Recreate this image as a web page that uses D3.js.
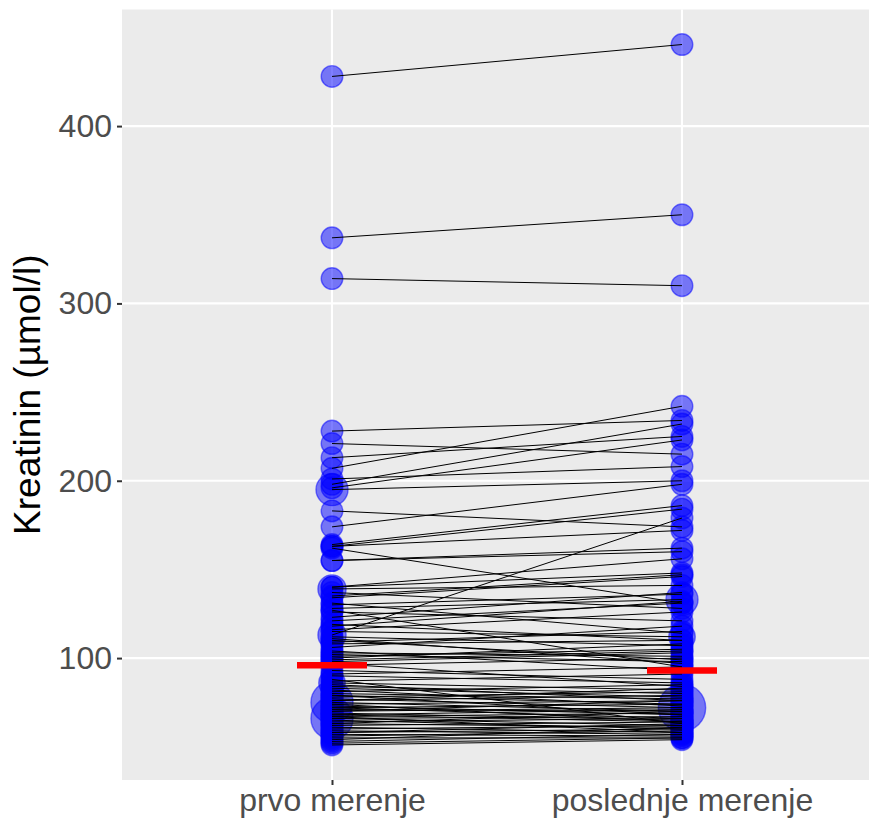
<!DOCTYPE html>
<html>
<head>
<meta charset="utf-8">
<script src="https://cdn.jsdelivr.net/npm/d3@7"></script>
<style>
  html, body { margin: 0; padding: 0; background: #ffffff; }
  svg { display: block; font-family: "Liberation Sans", Arial, sans-serif; }
</style>
</head>
<body>
<svg id="chart" width="881" height="824"></svg>
<script>
// Kreatinin (µmol/l) for each patient: first and last measurement
const merenja = ["prvo merenje", "poslednje merenje"];

const prvo = [
  428, 337, 314, 228, 221, 213, 207, 201, 198, 196,
  195, 183, 174, 164, 163, 163, 162, 155, 155, 140,
  140, 139, 135, 134, 130, 128, 127, 121, 118, 115,
  113, 112, 109, 108, 104, 103, 101, 99, 97, 96,
  93, 91, 88, 86, 84, 83, 81, 80, 79, 78,
  77, 76, 75, 74, 73, 72, 72, 71, 70, 69,
  68, 68, 67, 66, 66, 65, 64, 63, 62, 61,
  60, 59, 58, 57, 56, 55, 53, 52, 51,
  137, 126, 123, 119, 116, 111, 106, 102, 100, 98, 131, 110,
  90, 87, 85, 82, 79, 76, 74, 70, 67, 63, 58, 54
];

const poslednje = [
  446, 350, 310, 234, 215, 225, 242, 208, 232, 223,
  200, 174, 198, 186, 184, 172, 131, 162, 160, 156,
  148, 141, 147, 146, 136, 133, 95, 131, 132, 112,
  179, 107, 115, 110, 93, 101, 105, 104, 84, 100,
  88, 95, 63, 82, 80, 78, 85, 77, 74, 81,
  72, 79, 70, 76, 68, 74, 66, 70, 72, 65,
  71, 64, 69, 62, 67, 60, 66, 61, 64, 58,
  62, 57, 60, 56, 59, 55, 57, 55, 54,
  128, 121, 137, 110, 126, 97, 118, 98, 108, 103, 114, 99,
  86, 91, 76, 73, 68, 83, 64, 76, 58, 70, 63, 61
];

// relative weight of each point (drives the marker area)
const tezinaPrvo = prvo.map(() => 1);
const tezinaPoslednje = poslednje.map(() => 1);
[[10, 2.2], [21, 1.7], [30, 1.7], [43, 1.5], [52, 3.8], [64, 3.8]]
  .forEach(([i, w]) => { tezinaPrvo[i] = w; });
[[25, 2.2], [29, 1.5], [50, 4.8]]
  .forEach(([i, w]) => { tezinaPoslednje[i] = w; });

const pacijenti = prvo.map((v, i) => ({
  id: i,
  vrednosti: [
    { merenje: merenja[0], v: v, w: tezinaPrvo[i] },
    { merenje: merenja[1], v: poslednje[i], w: tezinaPoslednje[i] }
  ]
}));

const medijane = [
  { merenje: merenja[0], v: d3.median(prvo) },
  { merenje: merenja[1], v: d3.median(poslednje) }
];

const svg = d3.select("#chart");
const panel = { left: 122, right: 869, top: 9.5, bottom: 780 };

// y domain: data range expanded by 5% on both ends
const sve = prvo.concat(poslednje);
const [yMin, yMax] = d3.extent(sve);
const pad = (yMax - yMin) * 0.05;
const y = d3.scaleLinear()
  .domain([yMin - pad, yMax + pad])
  .range([panel.bottom, panel.top]);

const x = d3.scalePoint()
  .domain(merenja)
  .range([332, 682]);

const r = d3.scaleSqrt().domain([0, 1]).range([0, 10.8]);

const yTicks = [100, 200, 300, 400];

// panel background
svg.append("rect")
  .attr("x", panel.left).attr("y", panel.top)
  .attr("width", panel.right - panel.left)
  .attr("height", panel.bottom - panel.top)
  .attr("fill", "#ebebeb");

// grid
const grid = svg.append("g").attr("stroke", "#ffffff").attr("stroke-width", 2.1);
grid.selectAll("line.h").data(yTicks).join("line")
  .attr("class", "h")
  .attr("x1", panel.left).attr("x2", panel.right)
  .attr("y1", d => y(d)).attr("y2", d => y(d));
grid.selectAll("line.v").data(merenja).join("line")
  .attr("class", "v")
  .attr("x1", d => x(d)).attr("x2", d => x(d))
  .attr("y1", panel.top).attr("y2", panel.bottom);

// points
svg.append("g").selectAll("circle")
  .data(pacijenti.flatMap(p => p.vrednosti))
  .join("circle")
  .attr("cx", d => x(d.merenje))
  .attr("cy", d => y(d.v))
  .attr("r", d => r(d.w))
  .attr("fill", "rgba(0,0,255,0.5)")
  .attr("stroke", "rgba(0,0,255,0.5)")
  .attr("stroke-width", 1.4);

// paired lines
const linija = d3.line().x(d => x(d.merenje)).y(d => y(d.v));
svg.append("g").selectAll("path")
  .data(pacijenti)
  .join("path")
  .attr("d", p => linija(p.vrednosti))
  .attr("fill", "none")
  .attr("stroke", "#000000")
  .attr("stroke-width", 1);

// medians
svg.append("g").selectAll("line")
  .data(medijane)
  .join("line")
  .attr("x1", d => x(d.merenje) - 35)
  .attr("x2", d => x(d.merenje) + 35)
  .attr("y1", d => y(d.v)).attr("y2", d => y(d.v))
  .attr("stroke", "#ff0000")
  .attr("stroke-width", 6.5);

// y axis
const yAxis = svg.append("g")
  .attr("transform", `translate(${panel.left},0)`)
  .call(d3.axisLeft(y).tickValues(yTicks).tickSize(5).tickPadding(5));
yAxis.select(".domain").remove();
yAxis.selectAll(".tick line").attr("stroke", "#333333").attr("stroke-width", 2);
yAxis.selectAll(".tick text")
  .attr("fill", "#4d4d4d")
  .style("font-size", "32px")
  .style("font-family", "'Liberation Sans', Arial, sans-serif");

// x axis
const xAxis = svg.append("g")
  .attr("transform", `translate(0,${panel.bottom})`)
  .call(d3.axisBottom(x).tickSize(5).tickPadding(3));
xAxis.select(".domain").remove();
xAxis.selectAll(".tick line").attr("stroke", "#333333").attr("stroke-width", 2);
xAxis.selectAll(".tick text")
  .attr("fill", "#4d4d4d")
  .style("font-size", "32px")
  .style("font-family", "'Liberation Sans', Arial, sans-serif");

// y axis title
svg.append("text")
  .attr("transform", `translate(40,${(panel.top + panel.bottom) / 2}) rotate(-90)`)
  .attr("text-anchor", "middle")
  .attr("fill", "#000000")
  .style("font-size", "37px")
  .text("Kreatinin (µmol/l)");
</script>
</body>
</html>
